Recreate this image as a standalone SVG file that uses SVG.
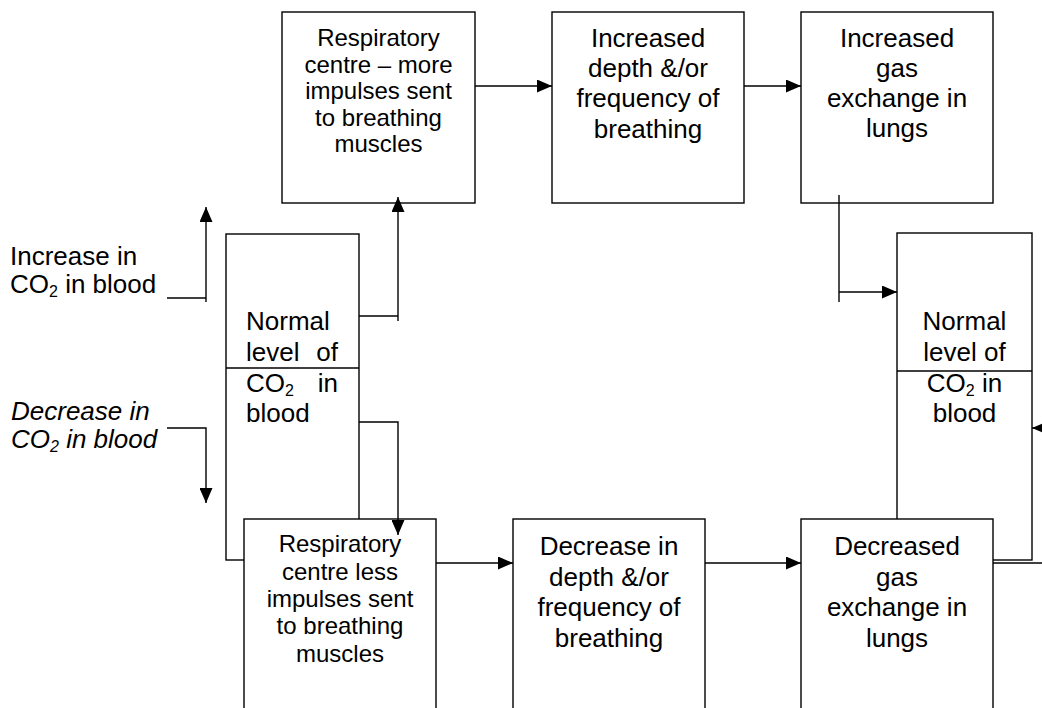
<svg xmlns="http://www.w3.org/2000/svg" width="1042" height="708" viewBox="0 0 1042 708">
  <style>
    .box { fill: #fff; stroke: #000; stroke-width: 1.4; }
    .div { fill: none; stroke: #000; stroke-width: 1.4; }
    .ln { fill: none; stroke: #000; stroke-width: 1.4; }
    .arr { marker-end: url(#head); }
    text { font-family: "Liberation Sans", Arial, sans-serif; fill: #000; }
    .t26 { font-size: 26px; }
    .t24 { font-size: 24px; }
    .c { text-anchor: middle; }
    .e { text-anchor: end; }
    .sub { font-size: 16px; }
  </style>
  <defs>
    <marker id="head" viewBox="0 0 15 13" refX="15" refY="6.5" markerWidth="15" markerHeight="13" markerUnits="userSpaceOnUse" orient="auto">
      <path d="M0,0 L15,6.5 L0,13 z" fill="#000"/>
    </marker>
  </defs>

  <rect width="1042" height="708" fill="#fff"/>

  <!-- side labels -->
  <g id="label-increase" class="t26">
    <text x="10" y="265">Increase in</text>
    <text x="10" y="293">CO<tspan class="sub" dy="4">2</tspan><tspan dy="-4"> in blood</tspan></text>
  </g>
  <g id="label-decrease" class="t26" font-style="italic">
    <text x="11" y="420">Decrease in</text>
    <text x="11" y="448">CO<tspan class="sub" dy="4">2</tspan><tspan dy="-4"> in blood</tspan></text>
  </g>

  <!-- normal level boxes (lower parts sit behind the bottom row) -->
  <g id="normal-left">
    <rect class="box" x="226" y="234" width="133" height="326"/>
    <line class="div" x1="226" y1="368" x2="359" y2="368"/>
    <g class="t26">
      <text x="246" y="330">Normal</text>
      <text x="246" y="360.5">level</text>
      <text class="e" x="338" y="360.5">of</text>
      <text x="246" y="391.5">CO<tspan class="sub" dy="4">2</tspan></text>
      <text class="e" x="338" y="391.5">in</text>
      <text x="246" y="422">blood</text>
    </g>
  </g>
  <g id="normal-right">
    <rect class="box" x="897" y="233" width="135" height="327"/>
    <line class="div" x1="897" y1="371" x2="1032" y2="371"/>
    <g class="t26 c">
      <text x="964.5" y="330">Normal</text>
      <text x="964.5" y="360.5">level of</text>
      <text x="964.5" y="391.5">CO<tspan class="sub" dy="4">2</tspan><tspan dy="-4"> in</tspan></text>
      <text x="964.5" y="422">blood</text>
    </g>
  </g>

  <!-- top row -->
  <g id="resp-more">
    <rect class="box" x="282" y="12" width="193" height="191"/>
    <g class="t24 c">
      <text x="378.5" y="46">Respiratory</text>
      <text x="378.5" y="72.5">centre – more</text>
      <text x="378.5" y="99">impulses sent</text>
      <text x="378.5" y="125.5">to breathing</text>
      <text x="378.5" y="152">muscles</text>
    </g>
  </g>
  <g id="depth-up">
    <rect class="box" x="552" y="12" width="192" height="191"/>
    <g class="t26 c">
      <text x="648" y="46.5">Increased</text>
      <text x="648" y="77">depth &amp;/or</text>
      <text x="648" y="107">frequency of</text>
      <text x="648" y="137.5">breathing</text>
    </g>
  </g>
  <g id="gas-up">
    <rect class="box" x="801" y="12" width="192" height="191"/>
    <g class="t26 c">
      <text x="897" y="46.5">Increased</text>
      <text x="897" y="76.5">gas</text>
      <text x="897" y="107">exchange in</text>
      <text x="897" y="137">lungs</text>
    </g>
  </g>

  <!-- bottom row (runs past the lower edge) -->
  <g id="resp-less">
    <rect class="box" x="244" y="519" width="192" height="210"/>
    <g class="t24 c">
      <text x="340" y="552">Respiratory</text>
      <text x="340" y="579.5">centre less</text>
      <text x="340" y="607">impulses sent</text>
      <text x="340" y="634">to breathing</text>
      <text x="340" y="661.5">muscles</text>
    </g>
  </g>
  <g id="depth-down">
    <rect class="box" x="513" y="519" width="192" height="210"/>
    <g class="t26 c">
      <text x="609" y="555">Decrease in</text>
      <text x="609" y="585.5">depth &amp;/or</text>
      <text x="609" y="616">frequency of</text>
      <text x="609" y="646.5">breathing</text>
    </g>
  </g>
  <g id="gas-down">
    <rect class="box" x="801" y="519" width="192" height="210"/>
    <g class="t26 c">
      <text x="897" y="555">Decreased</text>
      <text x="897" y="585.5">gas</text>
      <text x="897" y="616">exchange in</text>
      <text x="897" y="646.5">lungs</text>
    </g>
  </g>

  <!-- connectors -->
  <g id="connectors">
    <path class="ln" d="M167,298 H206"/>
    <path class="ln arr" d="M206,302 V207"/>
    <path class="ln arr" d="M167,428 H206 V503"/>
    <path class="ln" d="M359,316 H398"/>
    <path class="ln arr" d="M398,321 V197"/>
    <path class="ln arr" d="M359,422 H398 V535"/>
    <path class="ln arr" d="M475,86 H552"/>
    <path class="ln arr" d="M744,86 H801"/>
    <path class="ln" d="M839,195 V302"/>
    <path class="ln arr" d="M839,292 H897"/>
    <path class="ln arr" d="M436,563 H513"/>
    <path class="ln arr" d="M705,563 H801"/>
    <path class="ln" d="M993,563 H1042"/>
    <path class="ln arr" d="M1060,428 H1032"/>
  </g>
</svg>
